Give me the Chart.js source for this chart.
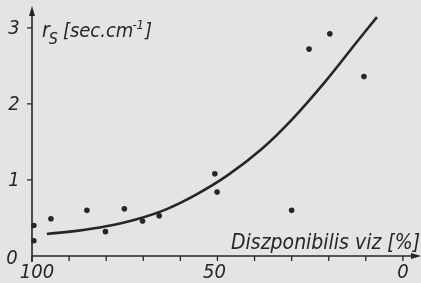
<!DOCTYPE html>
<html>
<head>
<meta charset="utf-8">
<script src="https://cdn.jsdelivr.net/npm/chart.js@4.4.1/dist/chart.umd.min.js"></script>
<style>
  html, body { margin: 0; padding: 0; background: #e3e4e6; }
  #wrap { width: 421px; height: 283px; position: relative; }
</style>
</head>
<body>
<div id="wrap"><canvas id="c"></canvas></div>
<script>
// measured points (disponible water %, r_s)
const obsX = [99.5, 99.5, 94.9, 85.2, 80.2, 75.1, 70.2, 65.7, 50.7, 50.1, 30.0, 25.3, 19.7, 10.5];
const obsY = [0.40, 0.20, 0.49, 0.60, 0.32, 0.62, 0.46, 0.53, 1.08, 0.84, 0.60, 2.72, 2.92, 2.36];

// fitted curve
const fitX = [96, 88, 80, 72, 64, 56, 47, 38, 30, 21, 12, 7];
const fitY = [0.29, 0.33, 0.39, 0.48, 0.61, 0.80, 1.07, 1.41, 1.79, 2.29, 2.84, 3.14];

const xTicks = [100, 90, 80, 70, 60, 50, 40, 30, 20, 10, 0];
const xLabels = ["100", "", "", "", "", "50", "", "", "", "", "0"];
const yTicks = [0, 1, 2, 3];
const yLabels = ["0", "1", "2", "3"];

const INK = "#262626";
const FONT = "'DejaVu Sans Condensed', 'Liberation Sans Narrow', 'DejaVu Sans', sans-serif";

const axesPlugin = {
  id: "handAxes",
  afterDatasetsDraw(chart) {
    const ctx = chart.ctx;
    const xs = chart.scales.x, ys = chart.scales.y;
    const x0 = xs.getPixelForValue(100);
    const y0 = ys.getPixelForValue(0);
    const xEnd = chart.chartArea.right + 2;
    const yTop = chart.chartArea.top + 4;

    ctx.save();
    ctx.strokeStyle = INK;
    ctx.fillStyle = INK;
    ctx.lineWidth = 1.6;

    // axis lines
    ctx.beginPath();
    ctx.moveTo(x0, y0 + 6);
    ctx.lineTo(x0, yTop);
    ctx.moveTo(x0, y0);
    ctx.lineTo(xEnd, y0);
    ctx.stroke();

    // arrow heads
    ctx.beginPath();
    ctx.moveTo(x0, yTop - 6);
    ctx.lineTo(x0 - 3, yTop + 4);
    ctx.lineTo(x0 + 3, yTop + 4);
    ctx.closePath();
    ctx.fill();
    ctx.beginPath();
    ctx.moveTo(xEnd + 2, y0);
    ctx.lineTo(xEnd - 8, y0 - 3);
    ctx.lineTo(xEnd - 8, y0 + 3);
    ctx.closePath();
    ctx.fill();

    // ticks
    ctx.lineWidth = 1.3;
    ctx.beginPath();
    xTicks.forEach((v) => {
      const px = xs.getPixelForValue(v);
      ctx.moveTo(px, y0);
      ctx.lineTo(px, y0 + 5);
    });
    yTicks.forEach((v) => {
      if (v === 0) return;
      const py = ys.getPixelForValue(v);
      ctx.moveTo(x0 - 5, py);
      ctx.lineTo(x0, py);
    });
    ctx.stroke();

    // tick labels
    ctx.font = "italic 20px " + FONT;
    ctx.textBaseline = "middle";
    ctx.textAlign = "center";
    xTicks.forEach((v, i) => {
      if (!xLabels[i]) return;
      let px = xs.getPixelForValue(v);
      if (v === 100) px += 5;
      if (v === 50) px -= 3;
      ctx.fillText(xLabels[i], px, y0 + 17);
    });
    yTicks.forEach((v, i) => {
      const py = ys.getPixelForValue(v);
      ctx.fillText(yLabels[i], v === 0 ? 12 : 14, py + (v === 0 ? 3 : 1));
    });

    // x axis title
    ctx.font = "italic 21px " + FONT;
    ctx.textAlign = "right";
    ctx.textBaseline = "alphabetic";
    ctx.fillText("Diszponibilis viz [%]", 420, y0 - 7);

    // y axis title: r_S [sec.cm^-1]
    ctx.textAlign = "left";
    let tx = x0 + 10;
    const ty = 37;
    ctx.font = "italic 21px " + FONT;
    ctx.fillText("r", tx, ty);
    tx += ctx.measureText("r").width - 1;
    ctx.font = "italic 16px " + FONT;
    ctx.fillText("S", tx, ty + 7);
    tx += ctx.measureText("S").width + 5;
    ctx.font = "italic 20px " + FONT;
    ctx.fillText("[sec.cm", tx, ty);
    tx += ctx.measureText("[sec.cm").width;
    ctx.font = "italic 13px " + FONT;
    ctx.fillText("-1", tx - 1, ty - 8);
    tx += ctx.measureText("-1").width;
    ctx.font = "italic 20px " + FONT;
    ctx.fillText("]", tx, ty);
    ctx.restore();
  },
};

new Chart(document.getElementById("c"), {
  type: "scatter",
  data: {
    datasets: [
      {
        label: "fit",
        type: "line",
        data: fitX.map((x, i) => ({ x: x, y: fitY[i] })),
        borderColor: INK,
        borderWidth: 2.6,
        pointRadius: 0,
        fill: false,
        tension: 0.4,
        clip: false,
      },
      {
        label: "obs",
        data: obsX.map((x, i) => ({ x: x, y: obsY[i] })),
        backgroundColor: INK,
        borderColor: INK,
        pointRadius: 2.8,
        borderWidth: 0,
        clip: false,
      },
    ],
  },
  options: {
    responsive: true,
    maintainAspectRatio: false,
    animation: false,
    layout: { padding: { left: 32, right: 3, top: 8, bottom: 27 } },
    plugins: { legend: { display: false }, tooltip: { enabled: false } },
    scales: {
      x: { type: "linear", display: false, reverse: true, min: -3.8, max: 100 },
      y: { type: "linear", display: false, min: 0, max: 3.26 },
    },
  },
  plugins: [axesPlugin],
});
</script>
</body>
</html>
